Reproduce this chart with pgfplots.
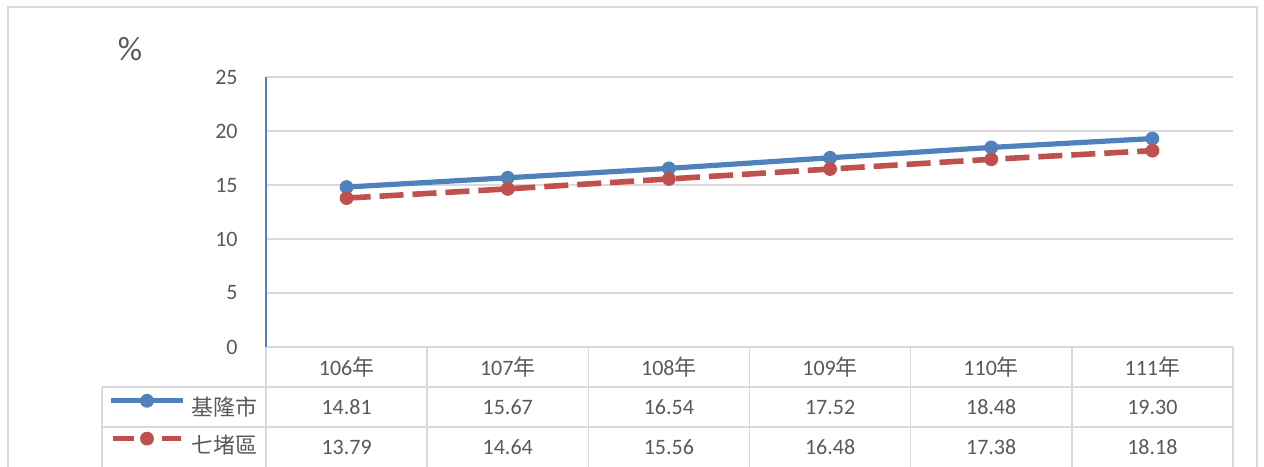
\documentclass[border=0pt]{standalone}
\usepackage{pgfplots}
\pgfplotsset{compat=1.18}
\usepackage{fontspec}
\setmainfont{Carlito}
\newfontfamily\cjk{Noto Sans CJK TC}
\definecolor{sblue}{HTML}{4F81BD}
\definecolor{sred}{HTML}{C0504D}
\definecolor{gridc}{HTML}{D9D9D9}
\definecolor{txt}{HTML}{595959}
\pgfplotsset{redleg/.style={legend image code/.code={\draw[##1, dash pattern=on 10.5pt off 14pt, mark repeat=2, mark phase=2] plot coordinates {(1pt,4.2pt) (18pt,4.2pt) (35pt,4.2pt)};}}}
\begin{document}
\begin{tikzpicture}
\useasboundingbox (0,0) rectangle (632pt,-233pt);
\begin{scope}[x=0.5pt,y=-0.5pt]
\draw[gridc, line width=0.75pt] (8,7) rectangle (1257,490);
\foreach \x in {266,427.17,588.33,749.5,910.67,1071.83,1233} \draw[gridc,line width=0.7pt] (\x,347) -- (\x,480);
\draw[gridc,line width=0.7pt] (102,387) -- (1233,387);
\draw[gridc,line width=0.7pt] (102,427) -- (1233,427);
\draw[gridc,line width=0.7pt] (102,387) -- (102,480);
\tikzset{tl/.style={font=\fontsize{11}{13}\selectfont, text=txt, inner sep=0pt}}
\node[tl] at (346.6,367) {106{\cjk 年}};
\node[tl] at (507.75,367) {107{\cjk 年}};
\node[tl] at (668.9,367) {108{\cjk 年}};
\node[tl] at (830.1,367) {109{\cjk 年}};
\node[tl] at (991.2,367) {110{\cjk 年}};
\node[tl] at (1152.4,367) {111{\cjk 年}};
\node[tl] at (346.6,407) {14.81};
\node[tl] at (507.75,407) {15.67};
\node[tl] at (668.9,407) {16.54};
\node[tl] at (830.1,407) {17.52};
\node[tl] at (991.2,407) {18.48};
\node[tl] at (1152.4,407) {19.30};
\node[tl] at (346.6,447) {13.79};
\node[tl] at (507.75,447) {14.64};
\node[tl] at (668.9,447) {15.56};
\node[tl] at (830.1,447) {16.48};
\node[tl] at (991.2,447) {17.38};
\node[tl] at (1152.4,447) {18.18};
\node[font=\fontsize{17}{20}\selectfont, text=txt, inner sep=0pt] at (130,49) {\%};
\end{scope}
\begin{axis}[at={(133pt,-173.5pt)}, anchor=south west, scale only axis,
  width=483.5pt, height=135pt,
  xmin=-0.5, xmax=5.5, ymin=0, ymax=25,
  ytick={0,5,10,15,20,25}, xtick=\empty,
  axis line style={draw=none},
  ymajorgrids, grid style={gridc, line width=0.7pt},
  major tick length=0pt,
  /pgf/number format/assume math mode=true,
  yticklabel style={inner sep=0pt, xshift=-14pt, font=\fontsize{11}{13}\selectfont, text=txt},
  clip=false,
  legend style={at={(axis description cs:0,0)}, anchor=north east, xshift=-4pt, yshift=-23.5pt,
    draw=none, fill=none, inner sep=0pt, row sep=6.5pt, column sep=3pt,
    nodes={inner sep=0pt, text height=8pt, text depth=2pt, font=\fontsize{11}{13}\selectfont\cjk, text=txt}},
  legend image code/.code={\draw[#1, mark repeat=2, mark phase=2] plot coordinates {(0pt,4.2pt) (18pt,4.2pt) (36pt,4.2pt)};},
]
\draw[sblue, line width=0.75pt] (axis cs:-0.5,0) -- (axis cs:-0.5,25);
\addplot[sblue, line width=2.6pt, mark=*, mark size=3.2pt, mark options={solid, line width=0.5pt}]
  coordinates {(0,14.81) (1,15.67) (2,16.54) (3,17.52) (4,18.48) (5,19.30)};
\addlegendentry{基隆市}
\addplot[sred, line width=2.8pt, dash pattern=on 12pt off 4.5pt, mark=*, mark size=3.2pt, mark options={solid, line width=0.5pt}, redleg]
  coordinates {(0,13.79) (1,14.64) (2,15.56) (3,16.48) (4,17.38) (5,18.18)};
\addlegendentry{七堵區}
\end{axis}
\end{tikzpicture}
\end{document}
